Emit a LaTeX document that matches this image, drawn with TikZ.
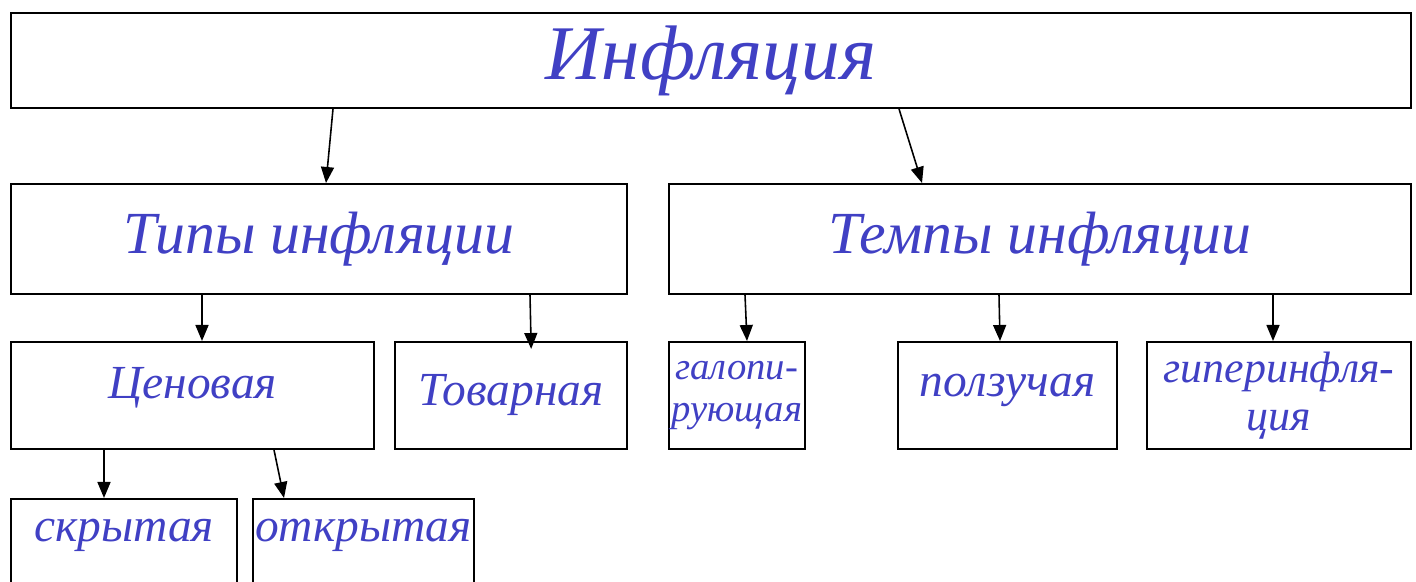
\documentclass[tikz,border=0pt]{standalone}
\usepackage{fontspec}
\setmainfont{Liberation Serif}
\usetikzlibrary{
  arrows.meta,
  positioning,  % relative placement
}
\definecolor{ink}{RGB}{64,64,196}
\def\myrowh{2.14cm}
\tikzset{
  semithick,
  >={Triangle[length=3.2mm,width=2.6mm]},
  my box/.style={
    draw,
    line width=1.1pt,
    rectangle,
    anchor=north west,
    inner sep=0.5mm,
    align=center,
    text=ink,
    font=\itshape
  },
  my arrow/.style={
    ->,
    line width=0.9pt
  },
  big/.style={font=\itshape\fontsize{44}{48}\selectfont},
  mid/.style={font=\itshape\fontsize{34}{38}\selectfont},
  small/.style={font=\itshape\fontsize{27}{30}\selectfont},
  tiny/.style={font=\itshape\fontsize{22}{24}\selectfont},
  tinier/.style={font=\itshape\fontsize{25}{27}\selectfont}
}

\begin{document}
\begin{tikzpicture}
\useasboundingbox (0,0) rectangle (28.32,11.64);
% top level
\node[my box,big,minimum width=28cm,minimum height=1.9cm] (infl) at (0.2,11.40) {Инфляция};
% second level
\node[my box,mid,minimum width=12.32cm,minimum height=2.2cm] (tipy) at (0.2,7.98) {Типы инфляции};
\node[my box,mid,minimum width=14.84cm,minimum height=2.2cm] (tempy) at (13.36,7.98) {Темпы инфляции};
% third level
\node[my box,small,minimum width=7.26cm,minimum height=\myrowh,text depth=0.5cm] (cenov) at (0.2,4.82) {Ценовая};
\node[my box,small,minimum width=4.64cm,minimum height=\myrowh] (tovar) at (7.88,4.82) {Товарная};
\node[my box,tiny,minimum width=2.58cm,minimum height=\myrowh] (galop) at (13.36,4.82) {галопи-\\рующая};
\node[my box,small,minimum width=4.38cm,minimum height=\myrowh,text depth=0.4cm] (polz) at (17.94,4.82) {ползучая};
\node[my box,tinier,minimum width=5.28cm,minimum height=\myrowh] (giper) at (22.92,4.82) {гиперинфля-\\ция};
% fourth level (cut by the page edge)
\node[my box,small,minimum width=4.52cm,minimum height=\myrowh,text depth=0.9cm] (skryt) at (0.2,1.68) {скрытая};
\node[my box,small,minimum width=4.42cm,minimum height=\myrowh,text depth=0.9cm,inner sep=0pt] (otkr) at (5.04,1.68) {открытая};

\draw[my arrow] ([xshift=6.46cm]infl.south west) -- ([xshift=6.32cm]tipy.north west);
\draw[my arrow] ([xshift=17.78cm]infl.south west) -- ([xshift=5.08cm]tempy.north west);
\draw[my arrow] ([xshift=3.84cm]tipy.south west) -- ([xshift=3.84cm]cenov.north west);
\draw[my arrow,shorten >=-1.6mm] ([xshift=10.40cm]tipy.south west) -- ([xshift=2.74cm]tovar.north west);
\draw[my arrow] ([xshift=1.54cm]tempy.south west) -- ([xshift=1.58cm]galop.north west);
\draw[my arrow] ([xshift=6.62cm]tempy.south west) -- ([xshift=2.06cm]polz.north west);
\draw[my arrow] ([xshift=12.10cm]tempy.south west) -- ([xshift=2.54cm]giper.north west);
\draw[my arrow] ([xshift=1.88cm]cenov.south west) -- ([xshift=1.88cm]skryt.north west);
\draw[my arrow] ([xshift=5.28cm]cenov.south west) -- ([xshift=0.64cm]otkr.north west);
\end{tikzpicture}
\end{document}
